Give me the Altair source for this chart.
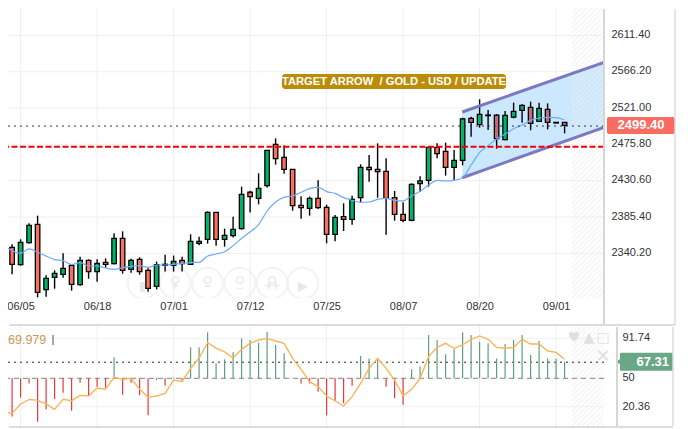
import altair as alt
import pandas as pd

FONT = "Liberation Sans"
GREEN = "#00b36b"
RED = "#fb6f5f"
RED_TINT = "#c46a74"

date_ticks = [2, 11, 20, 29, 38, 47, 56, 65]
date_labels = ["06/05", "06/18", "07/01", "07/12", "07/25", "08/07", "08/20", "09/01"]
price_ticks = [2340.20, 2385.40, 2430.60, 2475.80, 2521.00, 2566.20, 2611.40]
osc_ticks = [20.36, 50, 91.74]

highs = [2352.7,2351.5,2357.7,2377.6,2387.1,2312.9,2319.1,2340.3,2325.7,2336.1,2332.8,2332.8,2334.0,2365.1,2367.6,2333.6,2335.3,2321.6,2329.9,2338.6,2337.4,2336.1,2363.9,2361.0,2392.5,2391.3,2370.9,
         2385.9,2423.2,2418.2,2439.8,2468.8,2483.3,2474.6,2444.8,2411.2,2410.8,2431.1,2400.8,2388.0,2402.5,2412.0,2451.0,2462.6,2477.1,2458.5,2417.8,2403.7,2427.3,2436.1,2473.0,2477.1,2477.9,
         2468.8,2509.0,2510.3,2531.8,2518.6,2513.6,2517.3,2527.7,2525.6,2528.9,2527.7,2526.8,2503.2,2503.6]
body_top = [2349.0,2347.7,2353.9,2375.1,2376.3,2309.2,2315.4,2321.6,2325.3,2331.6,2331.6,2327.8,2329.1,2358.9,2358.9,2331.6,2332.8,2319.1,2326.2,2326.6,2330.3,2331.6,2355.2,2355.2,2391.3,2391.3,2362.7,
            2370.1,2413.7,2416.2,2421.1,2468.4,2475.9,2459.7,2444.8,2400.0,2408.7,2408.7,2397.5,2385.0,2385.9,2407.4,2447.3,2447.3,2444.8,2442.3,2409.5,2388.8,2426.1,2430.3,2472.1,2472.1,2467.2,
            2455.9,2507.4,2508.2,2513.2,2512.3,2512.3,2511.9,2516.9,2524.4,2521.9,2520.6,2519.4,2503.2,2503.2]
body_bot = [2329.1,2326.6,2326.2,2353.5,2291.7,2295.1,2310.4,2314.1,2301.7,2301.3,2317.5,2317.5,2326.6,2327.4,2319.1,2320.4,2317.5,2296.7,2299.2,2325.3,2325.3,2327.4,2326.6,2352.7,2357.7,2357.7,2357.7,
            2362.2,2370.9,2410.8,2408.7,2424.4,2458.0,2444.8,2399.6,2397.1,2396.2,2397.1,2363.9,2363.9,2382.6,2382.6,2409.5,2444.4,2441.9,2408.7,2388.8,2381.3,2381.3,2426.9,2431.1,2464.3,2447.3,
            2447.2,2455.9,2503.2,2500.3,2511.5,2482.9,2481.6,2509.8,2518.1,2502.0,2504.5,2503.2,2502.4,2499.5]
lows = [2314.1,2314.1,2324.9,2352.3,2285.5,2286.3,2296.3,2310.0,2293.8,2300.0,2308.7,2305.0,2322.4,2326.2,2315.0,2316.2,2313.7,2292.6,2295.5,2317.5,2317.5,2317.5,2326.2,2350.2,2352.3,2349.8,2348.6,
        2359.8,2369.7,2390.9,2401.2,2422.0,2450.6,2439.4,2393.3,2383.4,2387.1,2395.4,2352.7,2355.2,2368.0,2375.9,2403.3,2429.4,2409.5,2363.5,2380.9,2378.8,2380.1,2416.6,2423.2,2458.5,2436.9,
        2431.5,2449.7,2485.4,2496.6,2493.7,2470.4,2480.8,2508.2,2502.8,2493.3,2503.6,2494.5,2502.0,2489.5]
rising = [1,0,1,1,0,1,1,1,0,1,0,1,0,1,0,1,0,0,1,1,1,0,1,1,1,0,1,
          1,1,0,1,1,0,0,0,0,1,0,0,1,0,1,1,0,0,0,0,0,1,1,1,0,0,
          1,1,0,1,1,0,1,1,1,0,1,0,0,0]
ma = [2350.6,2343.6,2340.3,2345.7,2341.5,2336.9,2332.4,2331.1,2326.2,2328.7,2324.5,2324.5,2322.0,2320.4,2322.4,2324.1,2324.9,2322.8,2325.7,2325.7,2326.6,2327.8,2328.7,2329.1,2336.9,2339.4,2342.3,
      2349.8,2358.9,2366.8,2375.9,2392.9,2404.1,2409.9,2411.6,2416.2,2420.7,2422.4,2417.0,2414.9,2409.5,2406.2,2403.7,2404.1,2407.4,2408.7,2406.2,2405.4,2411.6,2417.4,2425.3,2431.1,2430.3,
      2431.1,2434.4,2450.1,2465.5,2474.2,2482.5,2488.7,2495.3,2499.9,2505.7,2508.6,2509.4,2509.0,2506.1]
osc_line = [14.8,13.4,23.2,28.0,27.0,23.2,17.6,28.0,26.6,32.2,31.5,39.9,38.5,51.0,48.9,50.0,38.5,30.1,31.5,34.3,48.2,46.8,60.4,71.2,87.2,81.6,77.5,71.2,80.2,86.5,90.0,91.7,88.9,86.5,70.8,59.4,
            46.5,41.3,31.5,26.3,21.1,30.8,44.7,60.4,70.8,60.4,48.2,31.5,38.5,50.0,72.6,82.3,86.5,81.3,84.8,90.7,94.2,90.7,82.3,81.3,82.3,90.7,85.8,85.8,78.5,77.1,69.8]
osc_bars = [26.6,10.0,29.8,44.7,4.7,17.6,28.4,35.0,16.2,45.4,31.5,41.3,40.2,71.9,32.9,45.4,32.2,11.3,48.2,42.3,51.0,46.1,82.3,82.3,98.0,65.6,69.8,77.1,91.7,90.0,87.2,98.7,84.8,76.1,50.0,44.7,
            44.7,36.0,11.3,26.6,23.9,42.3,73.3,70.8,69.1,41.3,29.1,22.5,59.4,62.2,95.2,90.0,75.0,80.2,98.0,95.2,88.2,86.5,70.8,85.8,90.0,95.2,74.3,89.3,70.8,70.8,67.4]

support_level = 2472.9
last_level = 2498.6
last_price = 2499.40
osc_last = 67.31
osc_mark = 66.8
channel_x = [53.96, 70.635]
channel_top = [2516.1, 2577.9]
channel_bot = [2434.3, 2497.0]
icon_x = [16.4, 20.2, 24.0, 27.8, 31.6, 35.2]
icon_glyph = ["▮", "+", "−", "↔", "++", "▶"]
has_lens = [0, 1, 1, 1, 1, 0]
icon_price = 2303.0

X0, X1 = 0.518, 70.635
Y0, Y1 = 2284.67, 2645.45
W, H = 596, 290
xs = alt.Scale(domain=[X0, X1], nice=False, zero=False, padding=0)
ys = alt.Scale(domain=[Y0, Y1], nice=False, zero=False, padding=0)
os_ = alt.Scale(domain=[0.2, 104.6], nice=False, zero=False, padding=0)

idx = list(range(len(highs)))
candles = pd.DataFrame(dict(i=idx, high=highs, low=lows, top=body_top, bot=body_bot,
                            up=rising, ma=ma, line=osc_line, bar=osc_bars))
candles["base"] = 50.0
candles["shade"] = ["up" if u else ("tint" if i >= 54 else "down") for i, u in zip(idx, rising)]
label_map = "{" + ",".join(f"'{t}':'{l}'" for t, l in zip(date_ticks, date_labels)) + "}"

AX = alt.Axis(title=None, values=date_ticks, domain=False, ticks=False, grid=False,
              labelExpr=f"{label_map}[datum.value]", labelFont=FONT, labelFontSize=11,
              labelColor="#333333", labelPadding=2, labelBound=False, labelOverlap=False)
AY = alt.Axis(title=None, orient="right", values=price_ticks, format=".2f", domain=False, ticks=False, grid=False,
              labelFont=FONT, labelFontSize=11, labelColor="#333333", labelPadding=7, labelOffset=-0.8)
AO = alt.Axis(title=None, orient="right", values=osc_ticks, labelExpr="datum.value", domain=False, ticks=False,
              grid=False, labelFont=FONT, labelFontSize=11, labelColor="#333333", labelPadding=18, labelOffset=-0.4)


def X(f):
    return alt.X(f, scale=xs, axis=AX)


def Y(f):
    return alt.Y(f, scale=ys, axis=AY)


def XL(f):
    return alt.X(f, scale=xs, axis=None)


def YL(f):
    return alt.Y(f, scale=os_, axis=AO)


def hatch(h):
    rows = []
    left, right = 564, 596
    for c in range(left, right + h, 5):
        x1, y1 = c, h
        x2, y2 = min(c + h, right), h - (min(c + h, right) - c)
        if x1 > right:
            continue
        rows.append(dict(a=x1, b=y1, c=x2, d=y2))
    for c in range(5, h, 5):
        x2 = min(left + c, right)
        rows.append(dict(a=left, b=c, c=x2, d=c - (x2 - left)))
    return pd.DataFrame(rows)


def px_x(p):
    return X0 + p * (X1 - X0) / W


h_top = hatch(H)
h_top["x"] = px_x(h_top.a)
h_top["x2"] = px_x(h_top.c)
h_top["y"] = Y1 - h_top.b * (Y1 - Y0) / H
h_top["y2"] = Y1 - h_top.d * (Y1 - Y0) / H

h_low = hatch(100)
h_low["x"] = px_x(h_low.a)
h_low["x2"] = px_x(h_low.c)
h_low["y"] = 104.6 - h_low.b * (104.6 - 0.2) / 100
h_low["y2"] = 104.6 - h_low.d * (104.6 - 0.2) / 100

# --- price pane ---
grid = alt.Chart(pd.DataFrame(dict(p=price_ticks))).mark_rule(color="#efefef", strokeWidth=1, clip=True).encode(y=Y("p:Q"))
vgrid = alt.Chart(pd.DataFrame(dict(t=date_ticks))).mark_rule(color="#efefef", strokeWidth=1, clip=True).encode(x=X("t:Q"))

icons = pd.DataFrame(dict(x=icon_x, g=icon_glyph, lens=has_lens))
icons["y"] = icon_price
rings = alt.Chart(icons).mark_point(shape="circle", size=950, filled=False, stroke="#eeeeee",
                                    strokeWidth=2, clip=True).encode(x=X("x:Q"), y=Y("y:Q"))
lens = alt.Chart(icons[icons.lens == 1].assign(y=icon_price + 4)).mark_point(
    shape="circle", size=45, filled=False, stroke="#e8e8e8", strokeWidth=2).encode(x=X("x:Q"), y=Y("y:Q"))
glyphs = alt.Chart(icons.assign(y=icon_price - 4)).mark_text(
    font=FONT, fontSize=12, fontWeight="bold", color="#e8e8e8").encode(x=X("x:Q"), y=Y("y:Q"), text="g:N")

chan = pd.DataFrame(dict(x=channel_x, top=channel_top, bot=channel_bot))
chan_fill = alt.Chart(chan).mark_area(color="#cce8ff", opacity=1, clip=True).encode(
    x=X("x:Q"), y=Y("bot:Q"), y2="top:Q")
hatch_top = alt.Chart(h_top).mark_rule(color="#eeeeee", strokeWidth=1.2, opacity=0.65, clip=True).encode(
    x=X("x:Q"), x2="x2:Q", y=Y("y:Q"), y2="y2:Q")

wick = alt.Chart(candles).mark_rule(color="#000000", strokeWidth=1.4, clip=True).encode(
    x=X("i:Q"), y=Y("low:Q"), y2="high:Q")
body = alt.Chart(candles).mark_bar(size=4.5, stroke="#000000", strokeWidth=1.3, clip=True).encode(
    x=X("i:Q"), y=Y("bot:Q"), y2="top:Q",
    color=alt.Color("shade:N", scale=alt.Scale(domain=["up", "down", "tint"], range=[GREEN, RED, RED_TINT]), legend=None))

chan_top = alt.Chart(chan).mark_line(color="#7b79c0", strokeWidth=3, clip=True).encode(x=X("x:Q"), y=Y("top:Q"))
chan_bot = alt.Chart(chan).mark_line(color="#7b79c0", strokeWidth=3, clip=True).encode(x=X("x:Q"), y=Y("bot:Q"))

ma_line = alt.Chart(candles).mark_line(color="#6aaaff", strokeWidth=1.2, interpolate="monotone", clip=True).encode(
    x=X("i:Q"), y=Y("ma:Q"))
support = alt.Chart(pd.DataFrame(dict(p=[support_level]))).mark_rule(
    color="#f00000", strokeWidth=2, strokeDash=[6, 2.5], clip=True).encode(y=Y("p:Q"))
last = alt.Chart(pd.DataFrame(dict(p=[last_level]))).mark_rule(
    color="#333333", strokeWidth=1, strokeDash=[2, 4], clip=True).encode(y=Y("p:Q"))

note = pd.DataFrame(dict(x=[45.93], y=[2553.9], t=["TARGET ARROW \u00a0/ GOLD - USD / UPDATE"]))
note_bg = alt.Chart(note).mark_rect(color="#bd8c06", width=224, height=15, cornerRadius=3).encode(x=X("x:Q"), y=Y("y:Q"))
note_tx = alt.Chart(note).mark_text(font=FONT, fontSize=11.2, fontWeight="bold", color="#ffffff").encode(
    x=X("x:Q"), y=Y("y:Q"), text="t:N")

badge_d = pd.DataFrame(dict(p=[last_price], lo=[last_price - 10.6], hi=[last_price + 10.6], t=[f"{last_price:.2f}"]))
badge = alt.Chart(badge_d).mark_rect(color="#f96c62", cornerRadius=2).encode(
    x=alt.value(599), x2=alt.value(667), y=Y("lo:Q"), y2="hi:Q")
badge_t = alt.Chart(badge_d).mark_text(font=FONT, fontSize=13, fontWeight="bold", color="#ffffff").encode(
    x=alt.value(633), y=Y("p:Q"), text="t:N")

sep = alt.Chart(pd.DataFrame(dict(a=[0]))).mark_rule(color="#d6d6d6", strokeWidth=2).encode(
    x=alt.value(596), y=alt.value(1), y2=alt.value(317))
edge = alt.Chart(pd.DataFrame(dict(a=[0]))).mark_rule(color="#dddddd", strokeWidth=1.5).encode(
    x=alt.value(667), y=alt.value(1), y2=alt.value(317))
floor = alt.Chart(pd.DataFrame(dict(a=[0]))).mark_rule(color="#dcdcdc", strokeWidth=2).encode(
    x=alt.value(1), x2=alt.value(667), y=alt.value(317))

top = alt.layer(grid, vgrid, rings, lens, glyphs, chan_fill, hatch_top, wick, body, chan_top, chan_bot, ma_line,
                support, last, note_bg, note_tx, badge, badge_t, sep, edge, floor).properties(width=W, height=H)

# --- oscillator pane ---
ogrid = alt.Chart(pd.DataFrame(dict(p=osc_ticks))).mark_rule(color="#f1f1f1", strokeWidth=1, clip=True).encode(y=YL("p:Q"))
ovgrid = alt.Chart(pd.DataFrame(dict(t=date_ticks))).mark_rule(color="#efefef", strokeWidth=1, clip=True).encode(x=XL("t:Q"))
hatch_low = alt.Chart(h_low).mark_rule(color="#eeeeee", strokeWidth=1.2, opacity=0.65, clip=True).encode(
    x=XL("x:Q"), x2="x2:Q", y=YL("y:Q"), y2="y2:Q")
o_mid = alt.Chart(pd.DataFrame(dict(p=[50]))).mark_rule(color="#888888", strokeWidth=1, strokeDash=[5, 4], clip=True).encode(y=YL("p:Q"))
o_last = alt.Chart(pd.DataFrame(dict(p=[osc_mark]))).mark_rule(color="#222222", strokeWidth=1, strokeDash=[2, 4], clip=True).encode(y=YL("p:Q"))
candles["dir"] = ["up" if b > 50 else "down" for b in osc_bars]
o_bars = alt.Chart(candles).mark_rule(strokeWidth=1.2, clip=True).encode(
    x=XL("i:Q"), y=YL("base:Q"), y2="bar:Q",
    color=alt.Color("dir:N", scale=alt.Scale(domain=["up", "down"], range=["#5f9f7d", "#e83a3a"]), legend=None))
o_line = alt.Chart(candles).mark_line(color="#fbb45a", strokeWidth=1.4, clip=True).encode(x=XL("i:Q"), y=YL("line:Q"))
o_title = alt.Chart(pd.DataFrame(dict(t=["69.979"]))).mark_text(
    font=FONT, fontSize=12.5, color="#c9995a", align="left").encode(x=alt.value(0), y=alt.value(14), text="t:N")
o_tick = alt.Chart(pd.DataFrame(dict(a=[0]))).mark_rule(color="#888888", strokeWidth=1.5).encode(
    x=alt.value(45), y=alt.value(9), y2=alt.value(19))
ico = pd.DataFrame(dict(px=[566, 581, 595, 595], py=[12, 12, 12, 31], g=["♥", "▲", "□", "✕"]))
o_icons = [alt.Chart(ico.iloc[[k]]).mark_text(font="DejaVu Sans", fontSize=(18 if k == 3 else 14), color="#e0e0e0",
                                              fontWeight="bold").encode(
    x=alt.value(int(ico.px[k])), y=alt.value(int(ico.py[k])), text="g:N") for k in range(4)]
o_d = pd.DataFrame(dict(p=[osc_last], lo=[osc_last - 9.4], hi=[osc_last + 9.4], t=[f"{osc_last:.2f}"]))
o_badge = alt.Chart(o_d).mark_rect(color="#6aa787", cornerRadius=1).encode(
    x=alt.value(612), x2=alt.value(665), y=YL("lo:Q"), y2="hi:Q")
o_tip = alt.Chart(o_d).mark_point(shape="triangle-left", filled=True, size=60, color="#6aa787", opacity=1).encode(
    x=alt.value(611), y=YL("p:Q"))
o_badge_t = alt.Chart(o_d).mark_text(font=FONT, fontSize=13, fontWeight="bold", color="#ffffff", align="right").encode(
    x=alt.value(661), y=YL("p:Q"), text="t:N")
o_sep = alt.Chart(pd.DataFrame(dict(a=[0]))).mark_rule(color="#d6d6d6", strokeWidth=2).encode(
    x=alt.value(609), y=alt.value(1), y2=alt.value(100))
o_edge = alt.Chart(pd.DataFrame(dict(a=[0]))).mark_rule(color="#dddddd", strokeWidth=1.5).encode(
    x=alt.value(665), y=alt.value(1), y2=alt.value(100))
o_floor = alt.Chart(pd.DataFrame(dict(a=[0]))).mark_rule(color="#dcdcdc", strokeWidth=2).encode(
    x=alt.value(1), x2=alt.value(665), y=alt.value(101))

low = alt.layer(ogrid, ovgrid, hatch_low, o_mid, o_last, o_bars, o_line, o_title, o_tick, *o_icons, o_badge, o_tip, o_badge_t,
                o_sep, o_edge, o_floor).properties(width=W, height=100)

chart = alt.vconcat(top, low, spacing=0).resolve_scale(color="independent").properties(
    padding={"left": -2, "top": 0, "right": 0, "bottom": 0}, background="#ffffff").configure_view(stroke=None)
chart.save("out.html", embed_options={"renderer": "svg", "actions": False})
